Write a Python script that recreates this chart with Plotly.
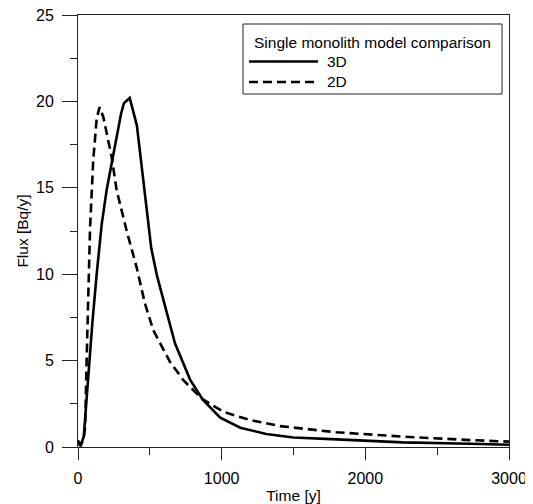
import plotly.graph_objects as go

# 3D model (solid)
t_3d = [0, 15, 40, 70, 100, 130, 165, 200, 250, 300, 320, 360, 410, 460, 510, 550, 600,
        675, 780, 870, 990, 1130, 1310, 1500, 1800, 2260, 2730, 3000]
flux_3d = [0.4, 0.05, 0.6, 4.0, 7.2, 10.0, 12.9, 14.9, 17.2, 19.3, 19.9, 20.2, 18.6, 15.2,
           11.5, 9.9, 8.3, 6.0, 3.9, 2.72, 1.7, 1.12, 0.75, 0.55, 0.44, 0.27, 0.19, 0.13]

# 2D model (dashed)
t_2d = [0, 20, 40, 50, 60, 72, 84, 106, 130, 150, 176, 234, 269, 339, 408, 466, 524,
        640, 733, 861, 1011, 1197, 1406, 1800, 2264, 2728, 3000]
flux_2d = [0.3, 0.1, 0.5, 1.2, 5.0, 8.9, 12.7, 16.6, 19.0, 19.67, 19.1, 16.8, 14.86, 12.5,
           10.4, 8.3, 6.76, 4.93, 3.87, 2.8, 2.04, 1.56, 1.21, 0.85, 0.6, 0.4, 0.31]

legend_title = "Single monolith model comparison"
series_names = ["3D", "2D"]

FONT = "Arial, Liberation Sans, sans-serif"
LW = 2.6
DASH = "9px,5px"

fig = go.Figure()
fig.add_trace(go.Scatter(x=t_3d, y=flux_3d, mode="lines", name=series_names[0],
                         showlegend=False, line=dict(color="black", width=LW)))
fig.add_trace(go.Scatter(x=t_2d, y=flux_2d, mode="lines", name=series_names[1],
                         showlegend=False, line=dict(color="black", width=LW, dash=DASH)))

axis_common = dict(showgrid=False, zeroline=False, showline=True, mirror=True,
                   linecolor="#222", linewidth=1, ticks="outside", tickcolor="#222",
                   tickwidth=1, automargin=False, ticklabeloverflow="allow",
                   tickfont=dict(family=FONT, size=16, color="black"))

fig.update_xaxes(range=[0, 3000], tickmode="linear", tick0=0, dtick=1000, ticklen=12,
                 minor=dict(ticks="outside", dtick=500, ticklen=7, tickcolor="#222"),
                 ticklabelstandoff=5,
                 title=dict(text="Time [y]", font=dict(family=FONT, size=15.5, color="black"),
                            standoff=8),
                 **axis_common)
fig.update_yaxes(range=[0, 25], tickmode="linear", tick0=0, dtick=5, ticklen=15,
                 minor=dict(ticks="outside", dtick=2.5, ticklen=7, tickcolor="#222"),
                 ticklabelstandoff=5,
                 title=dict(text="Flux [Bq/y]", font=dict(family=FONT, size=15.5, color="black"),
                            standoff=3),
                 **axis_common)

# Page has an 8px body margin, so the figure is sized to fill the window from there.
ML, MR, MT, MB = 70, 24, 7, 57
FIG_W, FIG_H = 525, 496
PW, PH = FIG_W - ML - MR, FIG_H - MT - MB

# Legend box drawn in paper coordinates (decoration only); pixel values are window coords
OFF = 8
px = lambda v: (v - OFF - ML) / PW
py = lambda v: (OFF + MT + PH - v) / PH

fig.add_shape(type="rect", xref="paper", yref="paper",
              x0=px(243), x1=px(502), y0=py(94), y1=py(24),
              line=dict(color="#222", width=1), fillcolor="white", layer="above")
fig.add_annotation(xref="paper", yref="paper", x=px(372.5), y=py(42), text=legend_title,
                   showarrow=False, xanchor="center", yanchor="middle",
                   font=dict(family=FONT, size=15.5, color="black"))
for i, (name, dash) in enumerate(zip(series_names, ["solid", DASH])):
    yy = 61.5 + 20.5 * i
    fig.add_shape(type="line", xref="paper", yref="paper",
                  x0=px(249), x1=px(318), y0=py(yy), y1=py(yy),
                  line=dict(color="black", width=LW, dash=dash), layer="above")
    fig.add_annotation(xref="paper", yref="paper", x=px(325), y=py(yy), text=name,
                       showarrow=False, xanchor="left", yanchor="middle",
                       font=dict(family=FONT, size=15.5, color="black"))

fig.update_layout(
    width=FIG_W, height=FIG_H,
    margin=dict(l=ML, r=MR, t=MT, b=MB),
    plot_bgcolor="white", paper_bgcolor="white",
    font=dict(family=FONT, color="black"),
    showlegend=False,
)

fig.write_html("out.html")
